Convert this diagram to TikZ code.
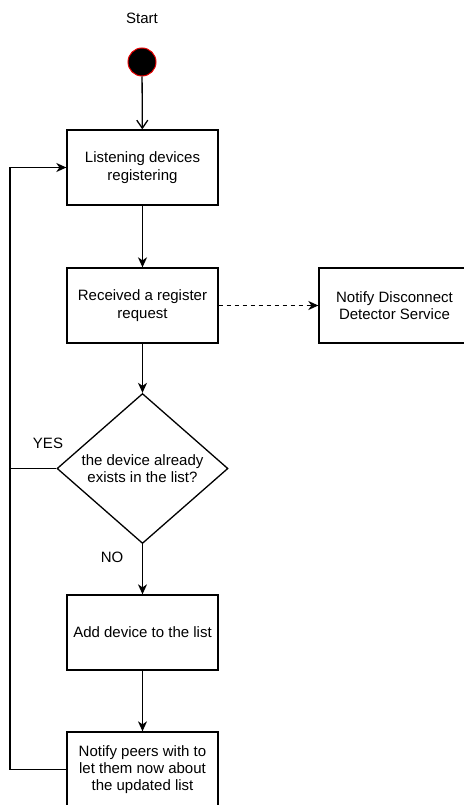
\documentclass[tikz,border=0pt]{standalone}
\usepackage{fontspec}
\setmainfont{Liberation Sans}
\usetikzlibrary{shapes.geometric,arrows.meta}
\definecolor{startred}{RGB}{230,0,0}

\begin{document}
\begin{tikzpicture}[x=1pt,y=-1pt,
  lbl/.style={font=\fontsize{15}{17.3}\selectfont, inner sep=0pt},
  box/.style={draw, line width=1.3pt, minimum width=151pt, minimum height=75pt,
    inner sep=0pt, align=center, font=\fontsize{15}{17.3}\selectfont},
  decision/.style={draw, line width=1.3pt, diamond, aspect=1.14,
    minimum width=171pt, minimum height=150pt, inner sep=0pt, align=center,
    font=\fontsize{15}{17.3}\selectfont},
  startdot/.style={circle, draw=startred, fill=black, line width=1pt,
    minimum size=28pt, inner sep=0pt},
  conn/.style={line width=1.3pt},
  arr/.style={conn, -{Stealth[length=10pt,width=9pt,inset=3pt]}},
  openarr/.style={conn, -{Straight Barb[length=8pt,width=11pt]}},
  dotted link/.style={arr, dash pattern=on 4pt off 4pt}
]
\useasboundingbox (0,0) rectangle (463,805);

% initial state
\node[lbl] (starttxt) at (142,18) {Start};
\node[startdot] (start) at (142,62) {};

% process steps
\node[box] (listen) at (142.5,167.5) {Listening devices\\registering};
\node[box] (recv) at (142.5,305.5) {Received a register\\request};
\node[box] (notifyds) at (394.5,305.5) {Notify Disconnect\\Detector Service};
\node[decision] (exists) at (142.5,468.5) {the device already\\exists in the list?};
\node[box] (add) at (142.5,632.5) {Add device to the list};
\node[box] (peers) at (142.5,769.5) {Notify peers with to\\let them now about\\the updated list};

% branch labels
\node[lbl] (yes) at (48,443) {YES};
\node[lbl] (no) at (112,557) {NO};

% loop-back rail
\coordinate (railtop) at (10,167.5);

% connectors
\draw[openarr] (start) -- (listen);
\draw[arr] (listen) -- (recv);
\draw[dotted link] (recv) -- (notifyds);
\draw[arr] (recv) -- (exists);
\draw[arr] (exists) -- (add);
\draw[arr] (add) -- (peers);
\draw[arr] (peers.west) -| (railtop) -- (listen.west);
\draw[conn] (exists.west) -- (exists.west -| railtop);
\end{tikzpicture}
\end{document}
